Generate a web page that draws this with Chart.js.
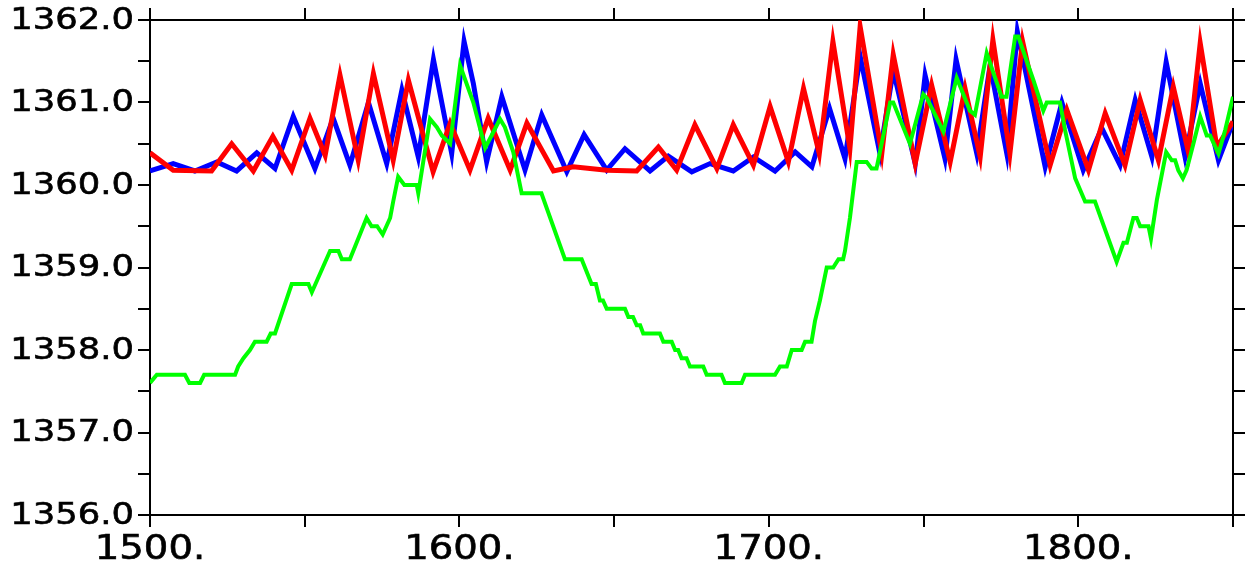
<!DOCTYPE html>
<html>
<head>
<meta charset="utf-8">
<script src="https://cdn.jsdelivr.net/npm/chart.js@4.4.1/dist/chart.umd.min.js"></script>
<style>
  html, body { margin: 0; padding: 0; background: #fff; }
</style>
</head>
<body>
<canvas id="tsiChart" width="1255" height="569"></canvas>
<script>
// values (year, W/m2)
const blueYears = [1500, 1507.5, 1514.5, 1521.6, 1528, 1534.5, 1540.4, 1546.3, 1553.3, 1559.2, 1564.6, 1570.6, 1576.5, 1581.4, 1586.7, 1591.6, 1597.5, 1601.5, 1604.5, 1608.8, 1613.7, 1621.2, 1626.6, 1634.7, 1640.3, 1647.6, 1653.5, 1661.6, 1667.5, 1675.1, 1681, 1688.5, 1695, 1702, 1708.5, 1713.9, 1719.6, 1724.6, 1729.5, 1735.9, 1740.2, 1747.3, 1750.5, 1756.9, 1760.5, 1767.2, 1771.5, 1776.9, 1780.3, 1789.3, 1794.7, 1801.6, 1807.6, 1813.5, 1818.4, 1823.8, 1828.4, 1834.5, 1839.4, 1845.3, 1850];
const blueValues = [1360.17, 1360.26, 1360.17, 1360.28, 1360.17, 1360.39, 1360.2, 1360.83, 1360.2, 1360.81, 1360.24, 1361.0, 1360.26, 1361.15, 1360.34, 1361.52, 1360.38, 1361.74, 1361.23, 1360.28, 1361.07, 1360.18, 1360.85, 1360.16, 1360.61, 1360.18, 1360.44, 1360.17, 1360.35, 1360.16, 1360.26, 1360.17, 1360.34, 1360.17, 1360.4, 1360.22, 1360.93, 1360.32, 1361.56, 1360.38, 1361.39, 1360.26, 1361.33, 1360.32, 1361.52, 1360.38, 1361.45, 1360.38, 1361.86, 1360.22, 1361.0, 1360.18, 1360.69, 1360.24, 1361.03, 1360.34, 1361.49, 1360.34, 1361.23, 1360.3, 1360.76];

const redYears = [1500, 1507.5, 1519.9, 1526.4, 1533.4, 1539.7, 1545.8, 1551.7, 1556.6, 1561.4, 1567.3, 1572.2, 1578.6, 1583.5, 1591.5, 1597, 1603.4, 1609.3, 1616.4, 1621.8, 1630.4, 1636.8, 1647.6, 1657.3, 1664.3, 1670.2, 1676.1, 1683.2, 1688.5, 1695, 1700.4, 1706.3, 1711.2, 1716.3, 1720.7, 1726.2, 1729.5, 1736.5, 1740.2, 1747.3, 1752.6, 1758.6, 1763.4, 1768.3, 1772.4, 1777.9, 1782, 1790.9, 1796.3, 1803.3, 1808.7, 1815.1, 1820, 1825.9, 1830.7, 1835.6, 1839.4, 1844.8, 1850];
const redValues = [1360.39, 1360.18, 1360.17, 1360.5, 1360.17, 1360.59, 1360.18, 1360.81, 1360.36, 1361.33, 1360.3, 1361.35, 1360.3, 1361.27, 1360.16, 1360.75, 1360.18, 1360.81, 1360.18, 1360.75, 1360.17, 1360.22, 1360.18, 1360.17, 1360.46, 1360.18, 1360.73, 1360.2, 1360.73, 1360.24, 1360.95, 1360.28, 1361.17, 1360.38, 1361.74, 1360.44, 1361.92, 1360.38, 1361.58, 1360.26, 1361.21, 1360.28, 1361.17, 1360.34, 1361.76, 1360.38, 1361.74, 1360.24, 1360.91, 1360.18, 1360.87, 1360.24, 1361.03, 1360.3, 1361.19, 1360.4, 1361.72, 1360.46, 1360.77];

const greenYears = [1500, 1502.2, 1511.3, 1512.7, 1516.2, 1517.5, 1527.5, 1528.5, 1530.2, 1532.3, 1533.9, 1537.7, 1539, 1540.4, 1545.8, 1551.2, 1552.3, 1558.2, 1560.9, 1562, 1564.6, 1570, 1571.6, 1573.4, 1575.2, 1577.6, 1578.6, 1580.2, 1582.2, 1586.2, 1586.7, 1590.5, 1592.7, 1594.3, 1597, 1600.2, 1604.5, 1608.3, 1610.4, 1613.1, 1614.7, 1617.4, 1620.1, 1626.5, 1634.1, 1639.5, 1642.7, 1644.1, 1645.4, 1646.4, 1647.6, 1653.5, 1654.6, 1656.1, 1657.3, 1658.4, 1659.4, 1664.8, 1665.9, 1668.6, 1669.7, 1670.7, 1671.8, 1673.4, 1674.5, 1678.8, 1679.9, 1684.7, 1685.8, 1691.2, 1692.3, 1702, 1703.6, 1705.8, 1707.4, 1710.6, 1711.7, 1713.8, 1714.9, 1716.5, 1718.7, 1720.8, 1722.5, 1724, 1724.6, 1726.2, 1728.4, 1731.6, 1733.2, 1734.8, 1739.2, 1740.2, 1745.6, 1749.9, 1751.1, 1756.4, 1760.7, 1765, 1766.6, 1770.4, 1775.2, 1776.8, 1779.6, 1780.6, 1785.5, 1788.7, 1789.8, 1794.1, 1795.7, 1799, 1802.2, 1805.4, 1812.4, 1814.6, 1815.7, 1817.8, 1818.9, 1820, 1822.7, 1823.5, 1825.4, 1828.4, 1830.2, 1831.3, 1832.3, 1833.8, 1835, 1837.2, 1839.4, 1841.5, 1842.6, 1845.3, 1847.5, 1850];
const greenValues = [1357.6, 1357.7, 1357.7, 1357.6, 1357.6, 1357.7, 1357.7, 1357.8, 1357.9, 1358.0, 1358.1, 1358.1, 1358.2, 1358.2, 1358.8, 1358.8, 1358.7, 1359.2, 1359.2, 1359.1, 1359.1, 1359.6, 1359.5, 1359.5, 1359.4, 1359.6, 1359.8, 1360.1, 1360.0, 1360.0, 1359.9, 1360.8, 1360.7, 1360.6, 1360.5, 1361.45, 1361.0, 1360.45, 1360.6, 1360.8, 1360.7, 1360.4, 1359.9, 1359.9, 1359.1, 1359.1, 1358.8, 1358.8, 1358.6, 1358.6, 1358.5, 1358.5, 1358.4, 1358.4, 1358.3, 1358.3, 1358.2, 1358.2, 1358.1, 1358.1, 1358.0, 1358.0, 1357.9, 1357.9, 1357.8, 1357.8, 1357.7, 1357.7, 1357.6, 1357.6, 1357.7, 1357.7, 1357.8, 1357.8, 1358.0, 1358.0, 1358.1, 1358.1, 1358.35, 1358.6, 1359.0, 1359.0, 1359.1, 1359.1, 1359.2, 1359.6, 1360.28, 1360.28, 1360.2, 1360.2, 1361.0, 1361.0, 1360.5, 1361.1, 1361.05, 1360.65, 1361.3, 1360.9, 1360.85, 1361.6, 1361.07, 1361.07, 1361.8, 1361.8, 1361.27, 1360.9, 1361.0, 1361.0, 1360.67, 1360.08, 1359.8, 1359.8, 1359.07, 1359.3, 1359.3, 1359.6, 1359.6, 1359.5, 1359.5, 1359.35, 1359.82, 1360.4, 1360.3, 1360.3, 1360.18, 1360.08, 1360.18, 1360.5, 1360.83, 1360.6, 1360.6, 1360.38, 1360.67, 1361.07];

// tick labels
const xLabelYears = [1500, 1600, 1700, 1800];
const xTickLabels = ['1500.', '1600.', '1700.', '1800.'];
const yLabelValues = [1356, 1357, 1358, 1359, 1360, 1361, 1362];
const yTickLabels = ['1356.0', '1357.0', '1358.0', '1359.0', '1360.0', '1361.0', '1362.0'];

const toPoints = (xs, ys) => xs.map((x, i) => ({ x: x, y: ys[i] }));

// NCL-style labels are wide, so draw them stretched sideways
const drawWide = (ctx, text, x, y, stretch) => {
  ctx.save();
  ctx.translate(x, y);
  ctx.scale(stretch, 1);
  ctx.fillText(text, 0, 0);
  ctx.strokeText(text, 0, 0);
  ctx.restore();
};

const labelPlugin = {
  id: 'wideLabels',
  afterDraw(chart) {
    const ctx = chart.ctx;
    const xs = chart.scales.x;
    const ys = chart.scales.y;
    ctx.save();
    ctx.fillStyle = '#000';
    ctx.strokeStyle = '#000';
    ctx.lineWidth = 0.6;
    ctx.textBaseline = 'middle';
    ctx.font = '30px "DejaVu Sans"';
    ctx.textAlign = 'right';
    yLabelValues.forEach((v, i) => {
      drawWide(ctx, yTickLabels[i], 134, ys.getPixelForValue(v) + 1, 1.18);
    });
    ctx.font = '33px "DejaVu Sans"';
    ctx.textAlign = 'center';
    xLabelYears.forEach((v, i) => {
      drawWide(ctx, xTickLabels[i], xs.getPixelForValue(v), 550, 1.17);
    });
    ctx.restore();
  }
};

const axisStyle = (pos, min, max, step, size) => ({
  type: 'linear',
  position: pos,
  min: min,
  max: max,
  ticks: { display: false, stepSize: step },
  grid: { drawOnChartArea: false, drawTicks: true, tickLength: 12, color: '#000', lineWidth: 2 },
  border: { display: true, color: '#000', width: 2 },
  afterFit(s) {
    if (pos === 'top' || pos === 'bottom') s.height = size;
    else s.width = size;
  }
});

const ctx = document.getElementById('tsiChart');
const tsiChart = new Chart(ctx, {
  type: 'line',
  data: {
    datasets: [
      { label: 'green', data: toPoints(greenYears, greenValues), borderColor: '#00ff00', borderWidth: 4, order: 0 },
      { label: 'red', data: toPoints(redYears, redValues), borderColor: '#ff0000', borderWidth: 5, order: 1 },
      { label: 'blue', data: toPoints(blueYears, blueValues), borderColor: '#0000ff', borderWidth: 5, order: 2 }
    ]
  },
  options: {
    responsive: false,
    animation: false,
    devicePixelRatio: 1,
    layout: { padding: 0 },
    elements: { point: { radius: 0 }, line: { tension: 0, fill: false } },
    plugins: { legend: { display: false }, tooltip: { enabled: false }, title: { display: false } },
    scales: {
      x: axisStyle('bottom', 1500, 1850, 50, 54),
      xTop: axisStyle('top', 1500, 1850, 50, 20),
      y: axisStyle('left', 1356, 1362, 0.5, 150),
      yRight: axisStyle('right', 1356, 1362, 0.5, 22)
    }
  },
  plugins: [labelPlugin]
});
</script>
</body>
</html>
